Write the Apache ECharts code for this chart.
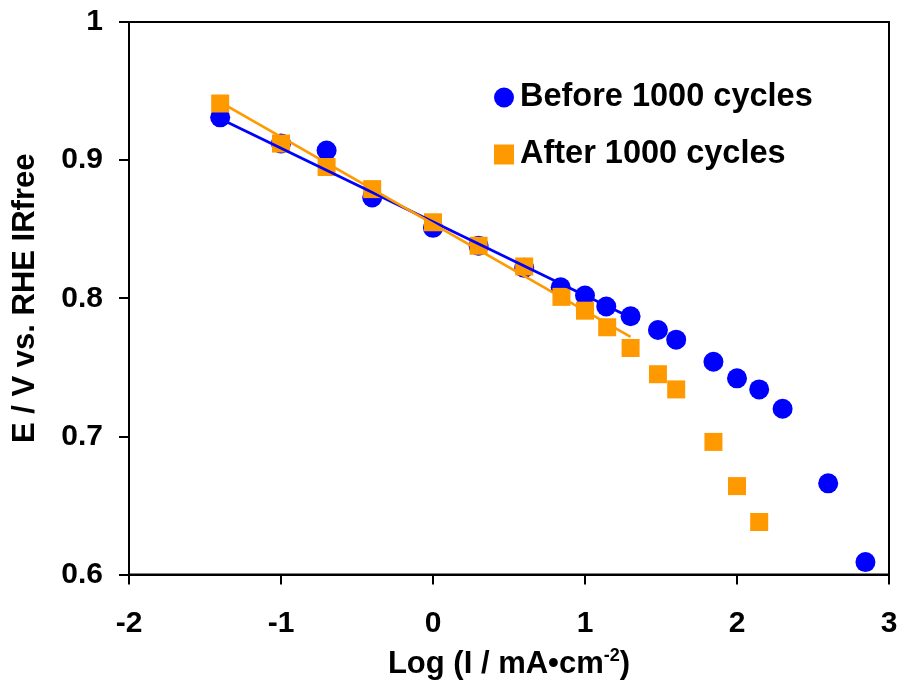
<!DOCTYPE html>
<html>
<head>
<meta charset="utf-8">
<script src="https://cdn.jsdelivr.net/npm/echarts@6/dist/echarts.min.js"></script>
<style>html,body{margin:0;padding:0;background:#fff;}#c{width:902px;height:685px;}</style>
</head>
<body>
<div id="c"></div>
<script>
// Data
const xTicks = [-2, -1, 0, 1, 2, 3];
const yTicks = [0.6, 0.7, 0.8, 0.9, 1];

const beforeX = [-1.40, -1.00, -0.70, -0.40, 0.00, 0.30, 0.60, 0.84, 1.00, 1.14, 1.30, 1.48, 1.60, 1.845, 2.00, 2.146, 2.30, 2.60, 2.845];
const beforeY = [0.931, 0.912, 0.907, 0.873, 0.851, 0.838, 0.822, 0.808, 0.802, 0.794, 0.787, 0.777, 0.770, 0.754, 0.742, 0.734, 0.720, 0.666, 0.609];

const afterX = [-1.40, -1.00, -0.70, -0.40, 0.00, 0.30, 0.60, 0.845, 1.00, 1.146, 1.30, 1.48, 1.60, 1.845, 2.00, 2.146];
const afterY = [0.941, 0.912, 0.895, 0.879, 0.855, 0.838, 0.823, 0.801, 0.791, 0.779, 0.764, 0.745, 0.734, 0.696, 0.664, 0.638];

// Linear fit lines (end points)
const beforeFitX = [-1.40, 1.30];
const beforeFitY = [0.930, 0.786];
const afterFitX = [-1.40, 1.30];
const afterFitY = [0.942, 0.772];

const seriesNames = ['Before 1000 cycles', 'After 1000 cycles'];
const xTitle = 'Log (I / mA•cm';
const yTitle = 'E / V vs. RHE IRfree';

const zip = (a, b) => a.map((v, i) => [v, b[i]]);

const FONT = '"Liberation Sans", Arial, Helvetica, sans-serif';
const chart = echarts.init(document.getElementById('c'), null, {renderer: 'canvas'});
chart.setOption({
  animation: false,
  backgroundColor: '#fff',
  grid: {left: 129, right: 13, top: 22, bottom: 110, show: true, borderColor: '#000', borderWidth: 2, backgroundColor: 'transparent'},
  legend: {
    data: [
      {name: seriesNames[0], icon: 'circle'},
      {name: seriesNames[1], icon: 'rect'}
    ],
    orient: 'vertical',
    left: 489,
    top: 76,
    itemGap: 24,
    itemWidth: 20,
    itemHeight: 20,
    textStyle: {fontFamily: FONT, fontWeight: 'bold', fontSize: 32.5, color: '#000', padding: [0, 0, 0, 1]}
  },
  xAxis: {
    type: 'value', min: -2, max: 3, interval: 1,
    axisLine: {show: true, onZero: false, lineStyle: {color: '#000', width: 2}},
    axisTick: {show: true, length: 10, lineStyle: {color: '#000', width: 2}},
    splitLine: {show: false},
    axisLabel: {margin: 34, fontFamily: FONT, fontWeight: 'bold', fontSize: 30, color: '#000',
      formatter: v => xTicks.includes(v) ? String(v) : ''},
    name: '{a|' + xTitle + '}{s|-2}{a|)}',
    nameLocation: 'middle',
    nameGap: 73,
    nameTextStyle: {
      rich: {
        a: {fontFamily: FONT, fontWeight: 'bold', fontSize: 31, color: '#000'},
        s: {fontFamily: FONT, fontWeight: 'bold', fontSize: 18, color: '#000', verticalAlign: 'top', padding: [0, 0, 16, 0]}
      }
    }
  },
  yAxis: {
    type: 'value', min: 0.6, max: 1, interval: 0.1,
    axisLine: {show: true, onZero: false, lineStyle: {color: '#000', width: 2}},
    axisTick: {show: true, length: 10, lineStyle: {color: '#000', width: 2}},
    splitLine: {show: false},
    axisLabel: {margin: 26, fontFamily: FONT, fontWeight: 'bold', fontSize: 30, color: '#000',
      formatter: v => { const r = Math.round(v * 10) / 10; return yTicks.includes(r) ? String(r) : ''; }},
    name: yTitle,
    nameLocation: 'middle',
    nameGap: 88,
    nameTextStyle: {fontFamily: FONT, fontWeight: 'bold', fontSize: 31, color: '#000'}
  },
  series: [
    {name: seriesNames[0], type: 'scatter', symbol: 'circle', symbolSize: 20,
      itemStyle: {color: '#0000ff', opacity: 1}, data: zip(beforeX, beforeY), z: 2},
    {name: seriesNames[1], type: 'scatter', symbol: 'rect', symbolSize: 18,
      itemStyle: {color: '#ff9900', opacity: 1}, data: zip(afterX, afterY), z: 3},
    {name: 'fitBefore', type: 'line', showSymbol: false, symbol: 'none',
      lineStyle: {color: '#0000ff', width: 2.7}, data: zip(beforeFitX, beforeFitY), z: 4},
    {name: 'fitAfter', type: 'line', showSymbol: false, symbol: 'none',
      lineStyle: {color: '#ff9900', width: 2.7}, data: zip(afterFitX, afterFitY), z: 4}
  ]
});
</script>
</body>
</html>
